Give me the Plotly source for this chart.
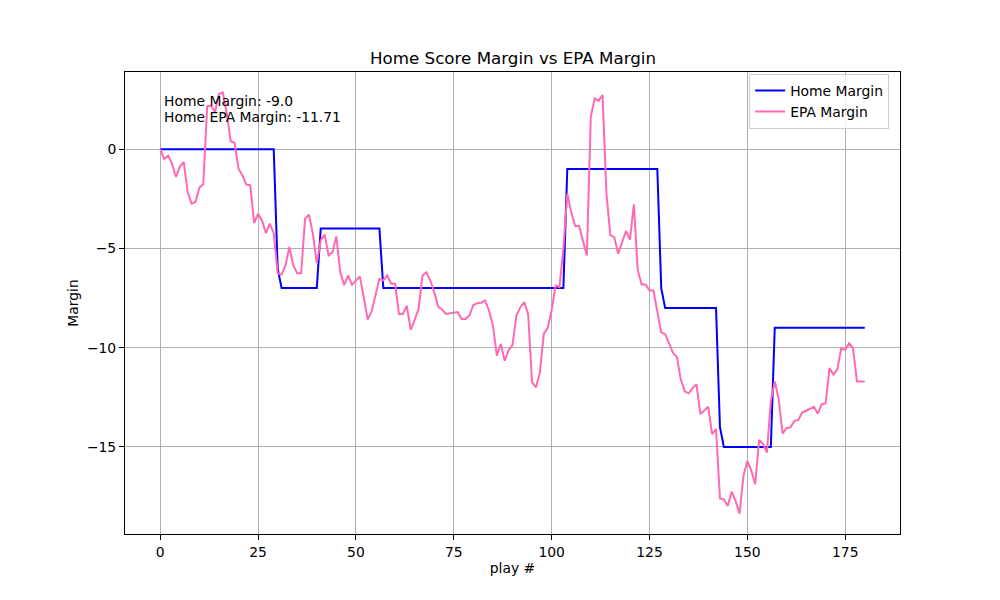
import plotly.graph_objects as go

plays = list(range(181))

home_margin = (
    [0] * 30 + [-6] + [-7] * 10 + [-4] * 16 + [-7] * 47 + [-1] * 24
    + [-7, -8] + [-8] * 13 + [-14] + [-15] * 13 + [-9] * 24
)

epa_margin = [
    0.0, -0.5, -0.32, -0.72, -1.4, -0.89, -0.64, -2.15, -2.74, -2.66,
    -1.94, -1.77, 2.17, 2.19, 1.88, 2.78, 2.86, 1.8, 0.4, 0.32,
    -0.98, -1.31, -1.78, -1.82, -3.72, -3.25, -3.59, -4.23, -3.75, -4.23,
    -6.25, -6.33, -5.86, -4.93, -5.86, -6.25, -6.25, -3.5, -3.3, -4.26,
    -5.74, -4.6, -4.3, -5.35, -5.19, -4.39, -6.22, -6.85, -6.36, -6.83,
    -6.62, -6.41, -7.46, -8.59, -8.18, -7.42, -6.53, -6.62, -6.36, -6.78,
    -6.78, -8.3, -8.3, -7.9, -9.1, -8.6, -8.05, -6.36, -6.2, -6.62,
    -7.2, -7.93, -8.08, -8.3, -8.27, -8.21, -8.21, -8.55, -8.55, -8.38,
    -7.85, -7.76, -7.74, -7.62, -8.13, -8.89, -10.4, -9.81, -10.66, -10.12,
    -9.87, -8.38, -7.96, -7.71, -8.3, -11.75, -12.0, -11.25, -9.31, -9.0,
    -8.13, -6.87, -6.95, -5.0, -2.24, -3.17, -3.87, -3.87, -4.56, -5.35,
    1.63, 2.56, 2.44, 2.73, -2.24, -4.34, -4.43, -5.27, -4.68, -4.12,
    -4.56, -2.78, -6.11, -6.82, -6.82, -7.12, -7.12, -8.2, -9.24, -9.32,
    -9.77, -10.26, -10.47, -11.62, -12.2, -12.3, -12.04, -11.84, -13.35, -13.18,
    -12.98, -14.36, -14.1, -17.6, -17.64, -17.98, -17.26, -17.73, -18.37, -16.46,
    -15.7, -16.18, -16.88, -14.66, -14.83, -15.29, -12.68, -11.7, -12.59, -14.33,
    -14.06, -14.02, -13.69, -13.65, -13.27, -13.18, -13.1, -12.98, -13.32, -12.85,
    -12.81, -11.03, -11.36, -11.08, -10.02, -10.12, -9.78, -10.02, -11.71, -11.71,
    -11.71,
]

x_ticks = [0, 25, 50, 75, 100, 125, 150, 175]
y_ticks = [-15, -10, -5, 0]

title_text = "Home Score Margin vs EPA Margin"
x_label = "play #"
y_label = "Margin"
info_lines = ["Home Margin: -9.0", "Home EPA Margin: -11.71"]

FONT = "DejaVu Sans"

fig = go.Figure()
fig.add_trace(go.Scatter(
    x=plays, y=home_margin, mode="lines", name="Home Margin",
    line=dict(color="#0000ff", width=2),
))
fig.add_trace(go.Scatter(
    x=plays, y=epa_margin, mode="lines", name="EPA Margin",
    line=dict(color="#ff69b4", width=2),
))

axis_common = dict(
    showline=True, linecolor="black", linewidth=1, mirror=True,
    showgrid=True, gridcolor="#b0b0b0", gridwidth=1,
    ticks="outside", ticklen=5, tickwidth=1, tickcolor="black",
    zeroline=False, automargin=False,
    tickfont=dict(family=FONT, size=13.9, color="black"),
)

fig.update_xaxes(range=[-9, 189], tickvals=x_ticks, **axis_common,
                 title=dict(text=x_label, font=dict(family=FONT, size=13.9, color="black"), standoff=4))
fig.update_yaxes(range=[-19.39, 3.89], tickvals=y_ticks, **axis_common,
                 title=dict(text=y_label, font=dict(family=FONT, size=13.9, color="black"), standoff=5))

annotations = [
    dict(text=title_text, xref="paper", yref="paper", x=0.5, y=1.0,
         yshift=14, xanchor="center", yanchor="middle", showarrow=False,
         font=dict(family=FONT, size=16.7, color="black")),
]
for k, line in enumerate(info_lines):
    annotations.append(dict(
        text=line, xref="paper", yref="paper", x=0.05, y=1.0,
        yshift=-29 - 16 * k, xshift=-2,
        xanchor="left", yanchor="middle", showarrow=False,
        font=dict(family=FONT, size=13.9, color="black"),
    ))

fig.update_layout(
    width=1000, height=600,
    margin=dict(l=117, r=108, t=64, b=74, autoexpand=False),
    paper_bgcolor="white", plot_bgcolor="white",
    font=dict(family=FONT, size=13.9, color="black"),
    showlegend=True,
    legend=dict(
        x=0.986, y=0.996, xanchor="right", yanchor="top",
        bgcolor="rgba(255,255,255,0.8)", bordercolor="#cccccc", borderwidth=1,
        font=dict(family=FONT, size=13.9, color="black"),
        tracegroupgap=0, itemwidth=30,
    ),
    annotations=annotations,
)

fig.write_html("out.html")
